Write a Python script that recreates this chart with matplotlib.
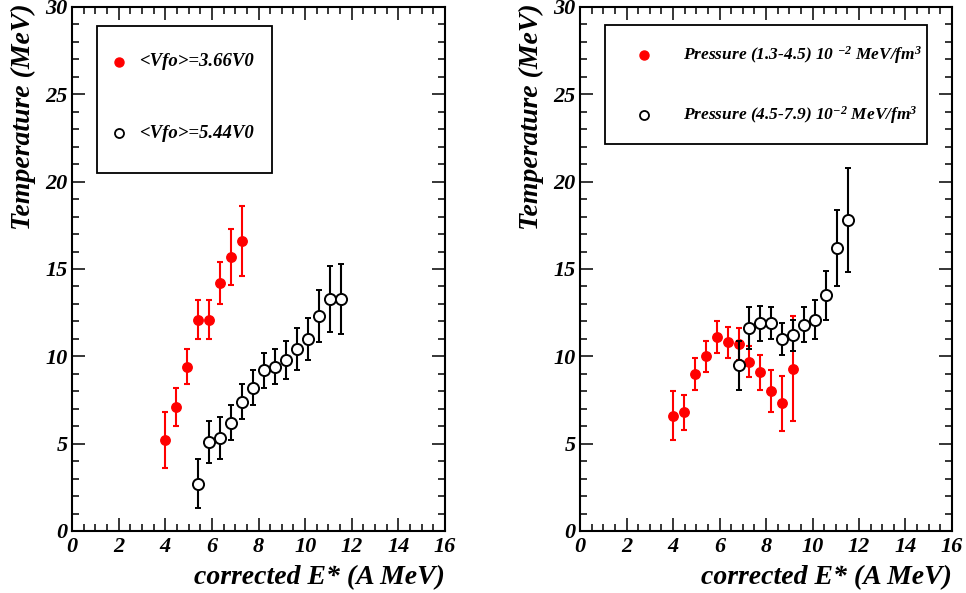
import matplotlib
matplotlib.use("Agg")
import matplotlib.pyplot as plt
from matplotlib.patches import Rectangle
from matplotlib.ticker import MultipleLocator

# ----------------------------------------
# data
# ----------------------------------------
# left panel: <Vfo> selection
x_v1 = [4.00, 4.47, 4.94, 5.41, 5.88, 6.35, 6.82, 7.29]
t_v1 = [5.2, 7.1, 9.4, 12.1, 12.1, 14.2, 15.7, 16.6]
e_v1 = [1.6, 1.1, 1.0, 1.1, 1.1, 1.2, 1.6, 2.0]

x_v2 = [5.41, 5.88, 6.35, 6.82, 7.29, 7.76, 8.23, 8.70, 9.17, 9.64, 10.11, 10.58, 11.05, 11.52]
t_v2 = [2.7, 5.1, 5.3, 6.2, 7.4, 8.2, 9.2, 9.4, 9.8, 10.4, 11.0, 12.3, 13.3, 13.3]
e_v2 = [1.4, 1.2, 1.2, 1.0, 1.0, 1.0, 1.0, 1.0, 1.1, 1.2, 1.2, 1.5, 1.9, 2.0]

# right panel: pressure selection
x_p1 = [4.00, 4.47, 4.94, 5.41, 5.88, 6.35, 6.82, 7.29, 7.76, 8.23, 8.70, 9.17]
t_p1 = [6.6, 6.8, 9.0, 10.0, 11.1, 10.8, 10.7, 9.7, 9.1, 8.0, 7.3, 9.3]
e_p1 = [1.4, 1.0, 0.9, 0.9, 0.9, 0.9, 0.9, 0.9, 1.0, 1.2, 1.6, 3.0]

x_p2 = [6.82, 7.29, 7.76, 8.23, 8.70, 9.17, 9.64, 10.11, 10.58, 11.05, 11.52]
t_p2 = [9.5, 11.6, 11.9, 11.9, 11.0, 11.2, 11.8, 12.1, 13.5, 16.2, 17.8]
e_p2 = [1.4, 1.2, 1.0, 0.9, 0.9, 0.9, 1.0, 1.1, 1.4, 2.2, 3.0]

labels_left = ["<Vfo>=3.66V0", "<Vfo>=5.44V0"]
labels_right = [r"Pressure (1.3-4.5) 10 $^{-2}$ MeV/fm$^{3}$",
				r"Pressure (4.5-7.9) 10$^{-2}$ MeV/fm$^{3}$"]

# ----------------------------------------
# style
# ----------------------------------------
plt.rcParams['font.family'] = ['Liberation Serif', 'DejaVu Serif']
plt.rcParams['font.weight'] = 'bold'
plt.rcParams['font.style'] = 'italic'
plt.rcParams['mathtext.fontset'] = 'custom'
plt.rcParams['mathtext.rm'] = 'Liberation Serif:bold:italic'
plt.rcParams['mathtext.it'] = 'Liberation Serif:bold:italic'
plt.rcParams['mathtext.bf'] = 'Liberation Serif:bold:italic'

fig = plt.figure(figsize=(9.66, 5.93), dpi=100)
W, H = 966., 593.
ax1 = fig.add_axes([72/W, 62/H, 373/W, 524/H])
ax2 = fig.add_axes([580/W, 62/H, 372/W, 524/H])


def style_axes(ax):
	ax.set_xlim(0, 16)
	ax.set_ylim(0, 30)
	ax.xaxis.set_major_locator(MultipleLocator(2))
	ax.xaxis.set_minor_locator(MultipleLocator(0.5))
	ax.yaxis.set_major_locator(MultipleLocator(5))
	ax.yaxis.set_minor_locator(MultipleLocator(1))
	ax.tick_params(which='both', direction='in', top=True, right=True, width=1.1, labelsize=16)
	ax.tick_params(which='major', length=9.5)
	ax.tick_params(which='minor', length=5)
	ax.tick_params(axis='y', pad=3)
	ax.tick_params(axis='x', pad=4)
	for s in ax.spines.values():
		s.set_linewidth(1.5)
	for lab in ax.get_xticklabels() + ax.get_yticklabels():
		lab.set_fontweight('bold')
		lab.set_fontstyle('italic')
	ax.text(1.0, -0.088, "corrected E* (A MeV)", transform=ax.transAxes,
			ha='right', va='center', fontsize=20, fontweight='bold', fontstyle='italic')
	ax.text(-0.13, 1.007, "Temperature (MeV)", transform=ax.transAxes, rotation=90,
			ha='center', va='top', fontsize=20, fontweight='bold', fontstyle='italic')


def draw_series(ax, x, y, e, filled):
	if filled:
		ax.errorbar(x, y, yerr=e, fmt='o', color='red', ms=6.8, mec='red', mfc='red',
					elinewidth=1.5, capsize=2.2, capthick=1.5, zorder=3)
	else:
		ax.errorbar(x, y, yerr=e, fmt='o', color='black', ms=8, mec='black', mfc='white',
					mew=1.4, elinewidth=1.5, capsize=2.2, capthick=1.5, zorder=4)


def draw_legend(ax, box, entries, mx, tx, ys, fs):
	x0, y0, x1, y1 = box
	ax.add_patch(Rectangle((x0, y0), x1 - x0, y1 - y0, transform=ax.transAxes,
						   fill=False, ec='black', lw=1.3, zorder=5))
	for (lab, filled), yy in zip(entries, ys):
		if filled:
			ax.plot([mx], [yy], 'o', color='red', ms=6.5, transform=ax.transAxes, zorder=6)
		else:
			ax.plot([mx], [yy], 'o', mfc='white', mec='black', mew=1.3, ms=6.5,
					transform=ax.transAxes, zorder=6)
		ax.text(tx, yy, lab, transform=ax.transAxes, ha='left', va='center',
				fontsize=fs, fontweight='bold', fontstyle='italic', zorder=6)


def px(ax_left, xpix, ypix):
	# image pixel -> axes fraction
	return (xpix - ax_left) / 373., (531. - ypix) / 524.


style_axes(ax1)
style_axes(ax2)

draw_series(ax1, x_v1, t_v1, e_v1, True)
draw_series(ax1, x_v2, t_v2, e_v2, False)
draw_series(ax2, x_p2, t_p2, e_p2, False)
draw_series(ax2, x_p1, t_p1, e_p1, True)

# left legend
bx0, by0 = px(72, 97, 173)
bx1, by1 = px(72, 272, 26)
draw_legend(ax1, (bx0, by0, bx1, by1),
			[(labels_left[0], True), (labels_left[1], False)],
			px(72, 119, 0)[0], px(72, 139, 0)[0],
			[px(72, 0, 62)[1], px(72, 0, 133)[1]], 13.5)

# right legend
bx0, by0 = px(580, 605, 144)
bx1, by1 = px(580, 928, 25)
draw_legend(ax2, (bx0, by0, bx1, by1),
			[(labels_right[0], True), (labels_right[1], False)],
			px(580, 644, 0)[0], px(580, 683, 0)[0],
			[px(580, 0, 55)[1], px(580, 0, 115)[1]], 12.5)

plt.savefig("out.png", dpi=100)
